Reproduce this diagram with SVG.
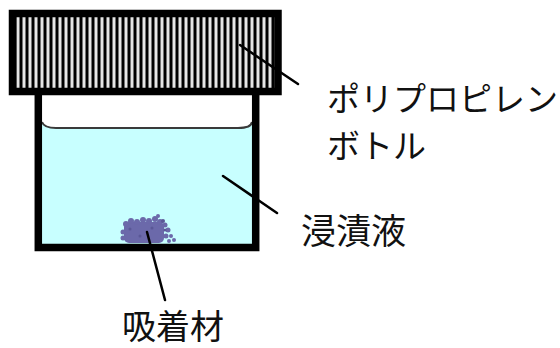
<svg xmlns="http://www.w3.org/2000/svg" width="560" height="348" viewBox="0 0 560 348">
  <style>
    .wall { fill: none; stroke: #000; stroke-width: 7.5; }
    .leader { fill: none; stroke: #000; stroke-width: 2.5; stroke-linecap: round; }
    .label { font-family: "Noto Sans CJK JP", "Noto Sans", sans-serif; fill: #111; }
    .blob circle { fill: #6b69aa; }
    .blob circle.d { fill: #5a5897; }
  </style>
  <defs>
    <pattern id="hatch" x="16" y="0" width="6" height="10" patternUnits="userSpaceOnUse">
      <rect width="6" height="10" fill="#000"/>
      <rect x="0.5" width="3" height="10" fill="#e6e6e6"/>
    </pattern>
  </defs>
  <rect width="560" height="348" fill="#fff"/>

  <!-- bottle body with solution -->
  <g id="bottle">
    <path d="M42 123 Q44 128 56 128 L238 128 Q251 128 252 123 L252 244 L42 244 Z" fill="#c8ffff"/>
    <path d="M42 122 Q44 128 56 128 L238 128 Q251 128 252 122" fill="none" stroke="#3a3a3a" stroke-width="2"/>
    <path class="wall" d="M38.3 90 L38.3 247.5 L255.7 247.5 L255.7 90"/>
  </g>

  <!-- polypropylene cap -->
  <g id="cap">
    <rect x="12.5" y="13.5" width="265.5" height="78" fill="url(#hatch)" stroke="#000" stroke-width="7.5"/>
  </g>

  <!-- adsorbent particles on the bottom -->
  <g id="adsorbent" class="blob">
    <rect x="124" y="222" width="40" height="21" rx="5" fill="#6b69aa"/>
    <circle cx="126" cy="224" r="3"/>
    <circle cx="131" cy="221" r="3"/>
    <circle cx="137" cy="222" r="3"/>
    <circle cx="143" cy="220" r="3"/>
    <circle cx="149" cy="221" r="3"/>
    <circle cx="155" cy="219" r="3"/>
    <circle cx="160" cy="222" r="3"/>
    <circle cx="158" cy="216" r="2"/>
    <circle cx="165" cy="225" r="2.5"/>
    <circle cx="168" cy="230" r="2.5"/>
    <circle cx="166" cy="236" r="2.5"/>
    <circle cx="171" cy="236" r="2"/>
    <circle cx="174" cy="240" r="2"/>
    <circle cx="169" cy="241" r="2"/>
    <circle cx="163" cy="221" r="2" class="d"/>
    <circle cx="165" cy="230" r="1.5" class="d"/>
    <circle cx="123" cy="232" r="2.5"/>
    <circle cx="123" cy="238" r="2.5"/>
    <circle cx="130" cy="229" r="1.5" class="d"/>
    <circle cx="140" cy="236" r="1.5" class="d"/>
    <circle cx="152" cy="228" r="1.5" class="d"/>
  </g>

  <!-- leader lines -->
  <g id="connectors">
    <line class="leader" x1="240" y1="45" x2="298" y2="84"/>
    <line class="leader" x1="223" y1="176" x2="277" y2="213"/>
    <line class="leader" x1="147" y1="232" x2="165" y2="300"/>
  </g>

  <g id="label-bottle">
    <text class="label" x="327" y="111" font-size="33">ポリプロピレン</text>
    <text class="label" x="327" y="158" font-size="33">ボトル</text>
  </g>
  <g id="label-solution">
    <text class="label" x="301" y="244" font-size="35">浸漬液</text>
  </g>
  <g id="label-adsorbent">
    <text class="label" x="122" y="339" font-size="34">吸着材</text>
  </g>
</svg>
